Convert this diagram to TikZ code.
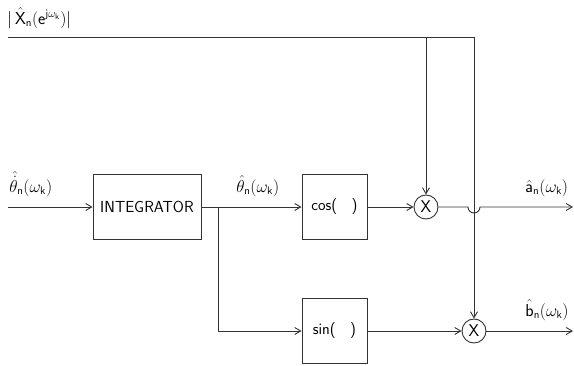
\documentclass[tikz,border=0pt]{standalone}
\usepackage{amsmath}
\usetikzlibrary{arrows.meta}
\begin{document}
\begin{tikzpicture}[x=1pt,y=-1pt,
  line width=0.9pt, draw=black!80,
  blk/.style={draw, minimum width=#1, minimum height=65pt, inner sep=0pt, font=\fontsize{16}{18}\sffamily},
  mult/.style={draw, circle, minimum size=24pt, inner sep=0pt, font=\fontsize{17}{19}\sffamily},
  lab/.style={font=\fontsize{16}{18}\selectfont, inner sep=1pt},
  arr/.style={-{Straight Barb[length=6pt,width=7pt]}}]
\useasboundingbox (0,0) rectangle (574,366);
\node[blk=108pt] (int) at (147,207) {INTEGRATOR};
\node[blk=65pt] (cos) at (334.5,207) {cos(\hspace{0.9em})};
\node[blk=65pt] (sin) at (334.5,331) {sin(\hspace{0.9em})};
\node[mult] (m1) at (426,207) {X};
\node[mult] (m2) at (474,331) {X};
\coordinate (in) at (8,207);
\coordinate (tl) at (8,37);
\coordinate (tr) at (474,37);
\coordinate (t1) at (426,37);
\coordinate (br) at (218,207);
\coordinate (oa) at (573,207);
\coordinate (ob) at (573,331);
\node[lab, anchor=south west] (lx) at (6,30) {$\lvert\,\hat{\mathsf{X}}_{\mathsf{n}}(\mathsf{e}^{\mathsf{j}\omega_{\mathsf{k}}})\rvert$};
\node[lab, anchor=south west] (lt) at (8,198) {$\hat{\dot{\theta}}_{\mathsf{n}}(\omega_{\mathsf{k}})$};
\node[lab, anchor=south west] (lt2) at (235,198) {$\hat{\theta}_{\mathsf{n}}(\omega_{\mathsf{k}})$};
\node[lab, anchor=south west] (la) at (524,198) {$\hat{\mathsf{a}}_{\mathsf{n}}(\omega_{\mathsf{k}})$};
\node[lab, anchor=south west] (lb) at (524,322) {$\hat{\mathsf{b}}_{\mathsf{n}}(\omega_{\mathsf{k}})$};
\draw[arr] (in) -- (int.west);
\draw[arr] (int.east) -- (cos.west);
\draw[arr] (br) |- (sin.west);
\draw[arr] (cos.east) -- (m1.west);
\draw[arr] (sin.east) -- (m2.west);
\draw (tl) -- (tr);
\draw[arr] (t1) -- (m1.north);
\draw[arr] (tr) -- (m2.north);
\draw[arr] (m1.east) -- (468,207) arc[start angle=180, end angle=360, radius=6pt] -- (oa);
\draw[arr] (m2.east) -- (ob);
\end{tikzpicture}
\end{document}
